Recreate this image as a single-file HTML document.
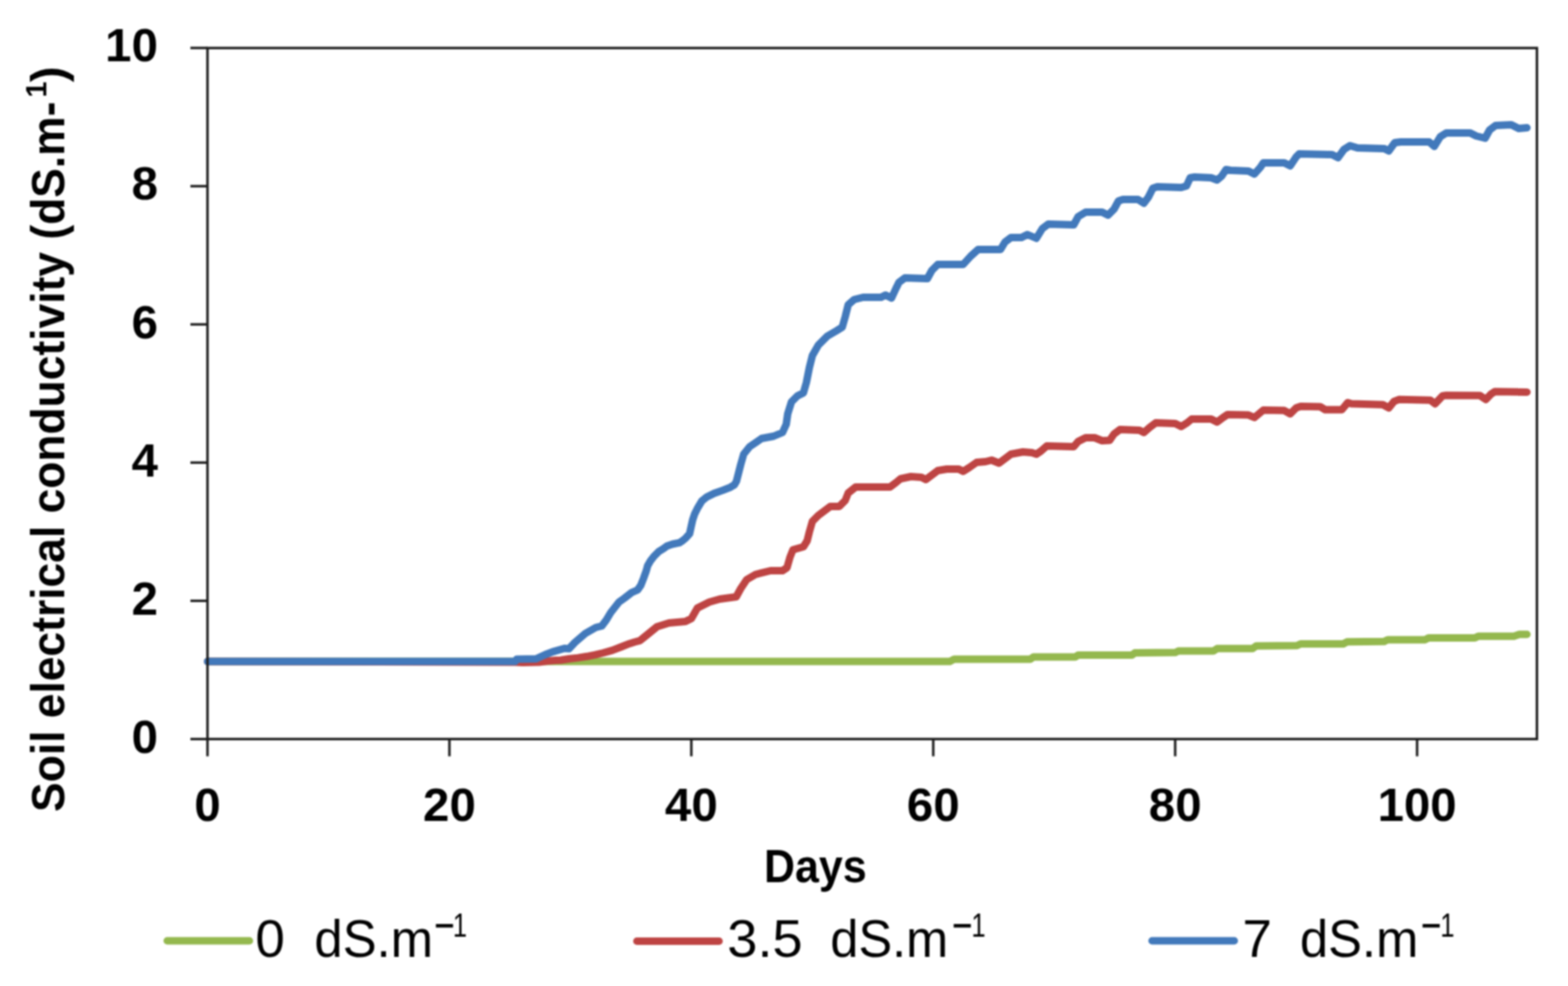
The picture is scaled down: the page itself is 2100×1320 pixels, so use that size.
<!DOCTYPE html>
<html><head><meta charset="utf-8"><title>Soil electrical conductivity</title>
<style>
html,body{margin:0;padding:0;background:#fff;}
body{width:2100px;height:1320px;overflow:hidden;}
svg{display:block;filter:blur(0.8px);}
.b{font-family:"Liberation Sans",Arial,sans-serif;font-weight:bold;fill:#000;}
.r{font-family:"Liberation Sans",Arial,sans-serif;font-weight:normal;fill:#000;}
</style></head>
<body>
<svg width="2100" height="1320" viewBox="0 0 2100 1320">
<rect width="2100" height="1320" fill="#fff"/>
<g fill="none" stroke-linejoin="round" stroke-linecap="round" stroke-width="10">
<polyline stroke="#94B84E" points="278,885.6 1272,885.6 1278,882.4 1380,882.4 1384,879.6 1440,879.6 1444,877 1516,877 1520,874 1574,873.6 1578,871.6 1625,871.6 1630,868.3 1677.6,868.3 1682.4,864.8 1737,864.3 1742,862 1799,862 1804,859.3 1853.8,858.8 1858.6,856.4 1908.6,856.4 1913.3,854 1975.2,854 1980,851.7 2027.6,851.7 2034.8,849.3 2045,849.3"/>
<polyline stroke="#BE4443" points="278,885.6 690,886.5 700,887 722,886.5 733,885 744,884 751,883.7 762,882 774,880.6 786,878.8 797,876.6 808,874 820,870.6 832,866 843,861.7 850,859.5 857,857.7 864,852 880,839 896,834 918,832 926,828 934,814 950,806 964,802 986,799 992,788 1000,776 1012,769 1032,764 1048,764 1054,760 1058,746 1062,736 1076,732 1081,724 1084,712 1088,698 1096,690 1112,678 1124,678 1132,670 1136,660 1146,652 1192,652 1200,646 1206,641 1220,638 1234,639 1240,642 1248,636 1256,630 1268,628 1284,628 1290,631 1298,626 1308,619 1320,618 1328,616 1338,620 1346,614 1354,608 1370,605 1382,606 1388,608 1394,604 1402,597 1438,598 1444,591 1454,586 1466,586 1476,590 1486,589.6 1492,581 1500,575 1526,576 1532,579 1540,572 1548,566 1574,567 1582,571 1590,566 1596,561 1622,561 1630,565 1638,559 1644,555 1672,555.6 1680,559 1686,554 1692,549 1720,549.6 1728,554 1736,546 1742,544 1768,544.4 1775,548.6 1797,548.6 1805,539 1810,540.5 1852,541.8 1860,546 1867,537.3 1873.5,534.8 1915.6,535.7 1922,540.5 1932,530 1937,529.2 1982,529.5 1990,534.8 1997,527.5 2002,524.3 2045,525"/>
<polyline stroke="#4279BB" points="278,885.6 690,885.6 692,882.5 718,882 730,876.5 740,872.6 756,868 762,868.5 770,860 784,848 798,840 806,838 812,830 818,820 829,806 836,801 846,793.3 854,789.7 858.2,783.6 861.8,774.5 865.5,764.2 867.3,757.6 871.5,750.3 876.4,744.2 882.4,738.2 888.5,734.5 893.3,730.9 900.6,728.5 909.7,726.7 914,724 918.2,720.5 923.6,714.4 925.7,704.8 927.7,695.9 930.5,687.7 934.6,679.6 940,670.7 946.8,665.2 956.4,660.5 968,656.4 978.2,652.3 983.7,648.9 986.4,644.1 992,622 996,608 1004,598 1020,587 1036,584 1048,579 1053,568 1055,554 1060,538 1068,530 1076,526 1080,512 1084,492 1088,476 1096,462 1108,450 1120,443 1128,438 1132,424 1136,408 1144,401 1156,398 1180,398 1186,395 1194,399 1200,386 1204,378 1212,372 1242,373 1248,362 1256,354 1290,354 1300,343 1310,334 1340,334 1346,324 1354,318 1368,318 1376,314 1388,319 1396,306 1404,300 1438,301 1444,290 1454,284 1476,284 1484,288 1492,280 1498,269 1504,267 1524,267 1532,272 1538,264 1544,252 1550,250 1582,251 1589,249 1594,238 1600,237 1622,238 1630,241 1636,236 1642,227 1648,228 1672,229 1680,233 1688,224 1692,218 1720,218 1728,222 1736,210 1740,206 1784,207 1792,211 1800,200 1808,195 1818,198 1854,199 1860,202 1868,191 1876,190 1914,190 1921,196 1929,183 1937,178 1969,178 1977,182 1989,185 1995,174 2003,168 2024,167 2034,172 2045,171"/>
</g>
<g stroke="#1c1c1c" stroke-width="3.3" fill="none" stroke-linecap="butt">
<rect x="277.9" y="64.3" width="1780.50" height="925.10"/>
<line x1="255" y1="989.40" x2="277.90" y2="989.40"/><line x1="255" y1="804.36" x2="277.90" y2="804.36"/><line x1="255" y1="619.32" x2="277.90" y2="619.32"/><line x1="255" y1="434.28" x2="277.90" y2="434.28"/><line x1="255" y1="249.24" x2="277.90" y2="249.24"/><line x1="255" y1="64.20" x2="277.90" y2="64.20"/><line x1="277.90" y1="989.40" x2="277.90" y2="1012.5"/><line x1="601.90" y1="989.40" x2="601.90" y2="1012.5"/><line x1="925.90" y1="989.40" x2="925.90" y2="1012.5"/><line x1="1249.90" y1="989.40" x2="1249.90" y2="1012.5"/><line x1="1573.90" y1="989.40" x2="1573.90" y2="1012.5"/><line x1="1897.90" y1="989.40" x2="1897.90" y2="1012.5"/>
</g>
<g class="b" font-size="63.5">
<text x="211.5" y="1007.6" text-anchor="end">0</text><text x="211.5" y="822.6" text-anchor="end">2</text><text x="211.5" y="637.5" text-anchor="end">4</text><text x="211.5" y="452.5" text-anchor="end">6</text><text x="211.5" y="267.4" text-anchor="end">8</text><text x="211.5" y="82.4" text-anchor="end">10</text>
<text x="277.9" y="1099" text-anchor="middle">0</text><text x="601.9" y="1099" text-anchor="middle">20</text><text x="925.9" y="1099" text-anchor="middle">40</text><text x="1249.9" y="1099" text-anchor="middle">60</text><text x="1573.9" y="1099" text-anchor="middle">80</text><text x="1897.9" y="1099" text-anchor="middle">100</text>
<text x="1092" y="1181.3" text-anchor="middle" textLength="137.5" lengthAdjust="spacingAndGlyphs">Days</text>
</g>
<g class="b" transform="translate(85.5,0) rotate(-90)">
<text x="-1087" y="0" font-size="63.5" textLength="951" lengthAdjust="spacingAndGlyphs">Soil electrical conductivity (dS.m-</text>
<text x="-130.5" y="-24" font-size="38.5">1</text>
<text x="-110" y="0" font-size="63.5">)</text>
</g>
<g fill="none" stroke-linecap="round" stroke-width="10">
<line x1="224" y1="1259.5" x2="334" y2="1259.5" stroke="#94B84E"/>
<line x1="853" y1="1260" x2="963" y2="1260" stroke="#BE4443"/>
<line x1="1543" y1="1259.5" x2="1653" y2="1259.5" stroke="#4279BB"/>
</g>
<g class="r" font-size="71">
<text x="342.0" y="1281">0</text><text x="421.0" y="1281" textLength="159.0" lengthAdjust="spacingAndGlyphs">dS.m</text><text x="582.5" y="1254" font-size="44" stroke="#000" stroke-width="1.6">−</text><text x="606.5" y="1253.6" font-size="44.5" textLength="19" lengthAdjust="spacingAndGlyphs">1</text><text x="974.0" y="1281" textLength="101.0" lengthAdjust="spacingAndGlyphs">3.5</text><text x="1112.0" y="1281" textLength="158.0" lengthAdjust="spacingAndGlyphs">dS.m</text><text x="1276.0" y="1254" font-size="44" stroke="#000" stroke-width="1.6">−</text><text x="1301.0" y="1253.6" font-size="44.5" textLength="19" lengthAdjust="spacingAndGlyphs">1</text><text x="1664.0" y="1281">7</text><text x="1741.0" y="1281" textLength="158.5" lengthAdjust="spacingAndGlyphs">dS.m</text><text x="1904.0" y="1254" font-size="44" stroke="#000" stroke-width="1.6">−</text><text x="1929.0" y="1253.6" font-size="44.5" textLength="19" lengthAdjust="spacingAndGlyphs">1</text>
</g>
</svg>
</body></html>
